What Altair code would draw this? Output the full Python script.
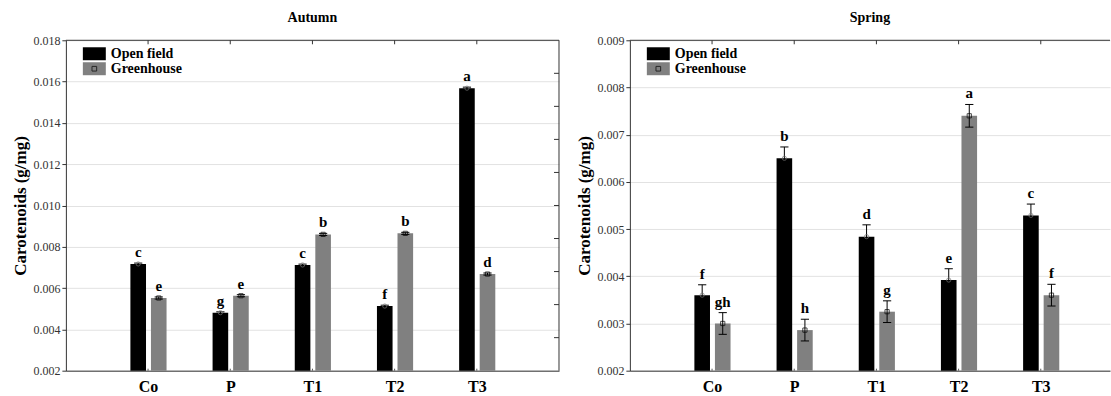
import altair as alt
import pandas as pd

FONT = "'Liberation Serif', 'Times New Roman', Times, 'DejaVu Serif', serif"

treatments = ["Co", "P", "T1", "T2", "T3"]
groups = ["Open field", "Greenhouse"]
group_colors = ["#000000", "#808080"]

# Autumn: means, standard errors and significance letters
autumn_open = [0.00717, 0.00481, 0.00712, 0.00513, 0.01568]
autumn_open_err = [0.00004, 0.00004, 0.00004, 0.00004, 0.00005]
autumn_green = [0.00552, 0.00563, 0.00860, 0.00865, 0.00668]
autumn_green_err = [0.00005, 0.00005, 0.00005, 0.00005, 0.00005]
autumn_open_letters = ["c", "g", "c", "f", "a"]
autumn_green_letters = ["e", "e", "b", "b", "d"]

# Spring: means, standard errors and significance letters
spring_open = [0.00360, 0.00650, 0.00484, 0.00392, 0.00529]
spring_open_err = [0.00022, 0.00024, 0.00025, 0.00024, 0.00024]
spring_green = [0.00300, 0.00286, 0.00325, 0.00740, 0.00360]
spring_green_err = [0.00023, 0.00023, 0.00023, 0.00024, 0.00023]
spring_open_letters = ["f", "b", "d", "e", "c"]
spring_green_letters = ["gh", "h", "g", "a", "f"]

PLOT_H = 331


def season_table(open_v, open_e, green_v, green_e, open_l, green_l):
    rows = []
    for i, t in enumerate(treatments):
        rows.append({"treatment": t, "pos": i + 1, "group": groups[0],
                     "value": open_v[i], "err": open_e[i], "letter": open_l[i]})
        rows.append({"treatment": t, "pos": i + 1, "group": groups[1],
                     "value": green_v[i], "err": green_e[i], "letter": green_l[i]})
    return pd.DataFrame(rows)


def legend_layers():
    row_a = pd.DataFrame({"label": [groups[0]]})
    row_b = pd.DataFrame({"label": [groups[1]]})
    box_a = alt.Chart(row_a).mark_rect(color=group_colors[0]).encode(
        x=alt.value(17), x2=alt.value(40), y=alt.value(7), y2=alt.value(20))
    box_b = alt.Chart(row_b).mark_rect(color=group_colors[1]).encode(
        x=alt.value(17), x2=alt.value(40), y=alt.value(22), y2=alt.value(35))
    mark_b = alt.Chart(row_b).mark_point(shape="square", size=22, filled=False,
                                         color="#000", strokeWidth=1).encode(
        x=alt.value(28.5), y=alt.value(28.5))
    text_a = alt.Chart(row_a).mark_text(font=FONT, fontSize=14, fontWeight="bold",
                                        align="left", baseline="alphabetic").encode(
        x=alt.value(45), y=alt.value(18), text="label:N")
    text_b = alt.Chart(row_b).mark_text(font=FONT, fontSize=14, fontWeight="bold",
                                        align="left", baseline="alphabetic").encode(
        x=alt.value(45), y=alt.value(33), text="label:N")
    return [box_a, box_b, mark_b, text_a, text_b]


def panel(df, title, y_min, y_max, y_step, width, x_max, right_frame):
    xs = alt.Scale(domain=[0, x_max], nice=False, zero=False)
    ys = alt.Scale(domain=[y_min, y_max], nice=False, zero=False)
    n_grid = round((y_max - y_min) / y_step)
    y_ticks = [round(y_min + k * y_step, 4) for k in range(n_grid + 1)]
    minor = [y_min + k * (y_max - y_min) / 10 for k in range(1, 10)]
    positions = list(range(1, len(treatments) + 1))

    base = (
        alt.Chart(df)
        .transform_calculate(left="datum.pos + (datum.group === 'Open field' ? -0.215 : 0.035)")
        .transform_calculate(right="datum.left + 0.19", mid="datum.left + 0.095",
                             lo="datum.value - datum.err", hi="datum.value + datum.err")
        .transform_calculate(cap_l="datum.mid - 0.05", cap_r="datum.mid + 0.05")
    )

    label_expr = "[" + ", ".join(f"'{t}'" for t in treatments) + "][datum.value - 1]"
    x_axis = alt.Axis(values=positions, labelExpr=label_expr, ticks=False, grid=False,
                      domainColor="#333", labelFont=FONT, labelFontSize=16,
                      labelFontWeight="bold", labelColor="#000", labelPadding=8,
                      labelFlush=False, title=None)
    y_axis = alt.Axis(values=y_ticks, format=".3f", tickSize=4, tickColor="#333",
                      domainColor="#333", grid=True, gridColor="#e2e2e2",
                      labelFont=FONT, labelFontSize=12, labelColor="#333",
                      labelPadding=2, title="Carotenoids (g/mg)", titleFont=FONT,
                      titleFontSize=17, titleFontWeight="bold", titleColor="#000",
                      titlePadding=3)

    bars = base.mark_bar().encode(
        x=alt.X("left:Q", scale=xs, axis=x_axis),
        x2="right:Q",
        y=alt.Y("value:Q", scale=ys, axis=y_axis),
        y2=alt.datum(y_min),
        color=alt.Color("group:N", scale=alt.Scale(domain=groups, range=group_colors),
                        legend=None),
    )
    whisker = base.mark_rule(color="#000", strokeWidth=1).encode(
        x=alt.X("mid:Q", scale=xs), y=alt.Y("lo:Q", scale=ys), y2="hi:Q")
    cap_hi = base.mark_rule(color="#000", strokeWidth=1).encode(
        x=alt.X("cap_l:Q", scale=xs), x2="cap_r:Q", y=alt.Y("hi:Q", scale=ys))
    cap_lo = base.mark_rule(color="#000", strokeWidth=1).encode(
        x=alt.X("cap_l:Q", scale=xs), x2="cap_r:Q", y=alt.Y("lo:Q", scale=ys))
    sq = base.transform_filter(f"datum.group === '{groups[1]}'").mark_point(
        shape="square", size=18, filled=False, color="#000", strokeWidth=1).encode(
        x=alt.X("mid:Q", scale=xs), y=alt.Y("value:Q", scale=ys))
    circ = base.transform_filter(f"datum.group === '{groups[0]}'").mark_point(
        shape="circle", size=18, filled=False, color="#777", strokeWidth=1).encode(
        x=alt.X("mid:Q", scale=xs), y=alt.Y("value:Q", scale=ys))
    letters = base.mark_text(font=FONT, fontSize=15, fontWeight="bold", color="#000",
                             baseline="alphabetic", dy=-6).encode(
        x=alt.X("mid:Q", scale=xs), y=alt.Y("hi:Q", scale=ys), text="letter:N")

    one = pd.DataFrame({"k": [0]})
    top_line = alt.Chart(one).mark_rule(color="#333").encode(
        x=alt.value(0), x2=alt.value(width), y=alt.value(0))
    pos_df = pd.DataFrame({"pos": positions})
    top_ticks = alt.Chart(pos_df).mark_rule(color="#333").encode(
        x=alt.X("pos:Q", scale=xs), y=alt.value(0), y2=alt.value(4))
    bottom_ticks = alt.Chart(pos_df).mark_rule(color="#555").encode(
        x=alt.X("pos:Q", scale=xs), y=alt.value(PLOT_H - 2), y2=alt.value(PLOT_H))

    layers = [bars, whisker, cap_hi, cap_lo, sq, circ, letters, top_line, top_ticks, bottom_ticks]
    if right_frame:
        right_line = alt.Chart(one).mark_rule(color="#333").encode(
            x=alt.value(width), y=alt.value(0), y2=alt.value(PLOT_H))
        right_ticks = alt.Chart(pd.DataFrame({"v": minor})).mark_rule(color="#333").encode(
            x=alt.value(width - 5), x2=alt.value(width), y=alt.Y("v:Q", scale=ys))
        layers += [right_line, right_ticks]
    layers += legend_layers()

    return alt.layer(*layers).properties(
        width=width, height=PLOT_H,
        title=alt.TitleParams(title, font=FONT, fontSize=14, fontWeight="bold",
                              color="#000", offset=9),
    )


autumn_df = season_table(autumn_open, autumn_open_err, autumn_green, autumn_green_err,
                         autumn_open_letters, autumn_green_letters)
spring_df = season_table(spring_open, spring_open_err, spring_green, spring_green_err,
                         spring_open_letters, spring_green_letters)

autumn = panel(autumn_df, "Autumn", 0.002, 0.018, 0.002, 494, 6, True)
spring = panel(spring_df, "Spring", 0.002, 0.009, 0.001, 481, 481 / 82.33, False)

chart = (
    alt.hconcat(autumn, spring, spacing=71, bounds="flush")
    .properties(padding={"left": 12, "top": 11, "right": 0, "bottom": 0})
    .configure_view(stroke=None)
)

chart.save("out.html", embed_options={"renderer": "svg", "actions": False})
